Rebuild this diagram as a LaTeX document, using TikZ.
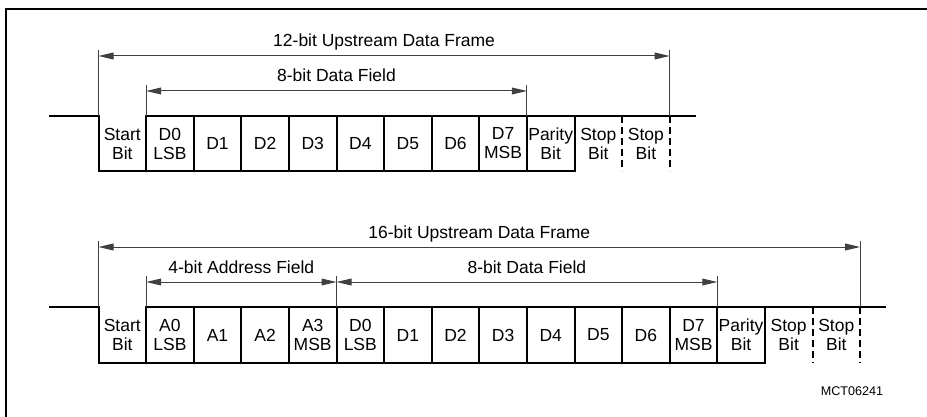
\documentclass[tikz,border=0pt]{standalone}
\usepackage{fontspec}
\setmainfont{Liberation Sans}
\usetikzlibrary{arrows.meta}

\begin{document}
\begin{tikzpicture}[x=0.5pt, y=-0.5pt,
    signalLine/.style={line width=1pt, line cap=rect},
    stopLine/.style={line width=1pt, dash pattern=on 3.5pt off 2pt},
    guideLine/.style={line width=0.5pt, draw=black!75},
    dimArrow/.style={line width=0.5pt, draw=black!75, {Triangle[length=7.5pt,width=3.4pt]}-{Triangle[length=7.5pt,width=3.4pt]}},
    bitText/.style={align=center, inner sep=0pt, font=\fontsize{8.75}{9.5}\selectfont},
    dimText/.style={anchor=base, inner sep=0pt, font=\fontsize{8.75}{9.5}\selectfont}]
    \definecolor{borderColour}{HTML}{000000}

    \def\cellWidth{47.6}
    \def\frameLeft{98.5}

    \useasboundingbox (0,0) rectangle (927,417);

    % Draw outer frame (top and left edges)
    \draw[line width=0.75pt, draw=borderColour] (927,9) -- (6,9) -- (6,417);

    % ---------------- 12-bit frame ----------------
    \def\hiY{116}
    \def\loY{171}
    \foreach \i in {0,...,12} {
        \coordinate (a\i) at ({\frameLeft+\i*\cellWidth},\hiY);
        \coordinate (ab\i) at ({\frameLeft+\i*\cellWidth},\loY);
    }
    \coordinate (aIdle) at (50,\hiY);
    \coordinate (aEnd) at (695,\hiY);

    % Draw waveform
    \draw[signalLine] (aIdle) -- (a0) -- (ab0) -- (ab10);
    \draw[signalLine] (a1) -- (aEnd);
    \foreach \i in {1,...,10}
        \draw[signalLine] (a\i) -- (ab\i);
    \foreach \i in {11,12}
        \draw[stopLine] (a\i) -- (ab\i);

    % Label bits
    \foreach \lbl [count=\i from 0] in {{Start\\Bit},{D0\\LSB},D1,D2,D3,D4,D5,D6,{D7\\MSB},{Parity\\Bit},{Stop\\Bit},{Stop\\Bit}}
        \node[bitText] (aBit\i) at ({\frameLeft+(\i+0.5)*\cellWidth},143.5) {\lbl};

    % Dimension lines
    \coordinate (aFrameL) at (\frameLeft,50);
    \coordinate (aFrameR) at ({\frameLeft+12*\cellWidth},50);
    \coordinate (aDataL) at ({\frameLeft+\cellWidth},85);
    \coordinate (aDataR) at ({\frameLeft+9*\cellWidth},85);
    \draw[guideLine] (aFrameL) -- (a0);
    \draw[guideLine] (aFrameR) -- (a12);
    \draw[guideLine] (aDataL) -- (a1);
    \draw[guideLine] (aDataR) -- (a9);
    \draw[dimArrow] ([yshift=-3pt]aFrameL) -- node[dimText, yshift=4.5pt] (aFrameTxt) {12-bit Upstream Data Frame} ([yshift=-3pt]aFrameR);
    \draw[dimArrow] ([yshift=-3pt]aDataL) -- node[dimText, yshift=4.5pt] (aDataTxt) {8-bit Data Field} ([yshift=-3pt]aDataR);

    % ---------------- 16-bit frame ----------------
    \def\hiY{307}
    \def\loY{363}
    \foreach \i in {0,...,16} {
        \coordinate (b\i) at ({\frameLeft+\i*\cellWidth},\hiY);
        \coordinate (bb\i) at ({\frameLeft+\i*\cellWidth},\loY);
    }
    \coordinate (bIdle) at (50,\hiY);
    \coordinate (bEnd) at (885,\hiY);

    % Draw waveform
    \draw[signalLine] (bIdle) -- (b0) -- (bb0) -- (bb14);
    \draw[signalLine] (b1) -- (bEnd);
    \foreach \i in {1,...,14}
        \draw[signalLine] (b\i) -- (bb\i);
    \foreach \i in {15,16}
        \draw[stopLine] (b\i) -- (bb\i);

    % Label bits
    \foreach \lbl [count=\i from 0] in {{Start\\Bit},{A0\\LSB},A1,A2,{A3\\MSB},{D0\\LSB},D1,D2,D3,D4,D5,D6,{D7\\MSB},{Parity\\Bit},{Stop\\Bit},{Stop\\Bit}}
        \node[bitText] (bBit\i) at ({\frameLeft+(\i+0.5)*\cellWidth},335) {\lbl};

    % Dimension lines
    \coordinate (bFrameL) at (\frameLeft,241);
    \coordinate (bFrameR) at ({\frameLeft+16*\cellWidth},241);
    \coordinate (bAddrL) at ({\frameLeft+\cellWidth},276);
    \coordinate (bAddrR) at ({\frameLeft+5*\cellWidth},276);
    \coordinate (bDataR) at ({\frameLeft+13*\cellWidth},276);
    \draw[guideLine] (bFrameL) -- (b0);
    \draw[guideLine] (bFrameR) -- (b16);
    \draw[guideLine] (bAddrL) -- (b1);
    \draw[guideLine] (bAddrR) -- (b5);
    \draw[guideLine] (bDataR) -- (b13);
    \draw[dimArrow] ([yshift=-3pt]bFrameL) -- node[dimText, yshift=4.5pt] (bFrameTxt) {16-bit Upstream Data Frame} ([yshift=-3pt]bFrameR);
    \draw[dimArrow] ([yshift=-3pt]bAddrL) -- node[dimText, yshift=4.5pt] (bAddrTxt) {4-bit Address Field} ([yshift=-3pt]bAddrR);
    \draw[dimArrow] ([yshift=-3pt]bAddrR) -- node[dimText, yshift=4.5pt] (bDataTxt) {8-bit Data Field} ([yshift=-3pt]bDataR);

    % Figure code
    \node[inner sep=0pt, font=\fontsize{6.3}{7}\selectfont] (figCode) at (852,391) {MCT06241};

\end{tikzpicture}
\end{document}
